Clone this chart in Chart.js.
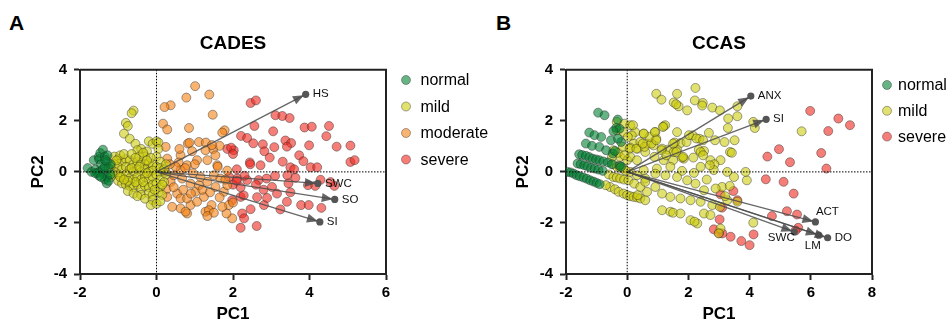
<!DOCTYPE html>
<html>
<head>
<meta charset="utf-8">
<script src="https://cdn.jsdelivr.net/npm/chart.js@4.4.0/dist/chart.umd.min.js"></script>
<style>
  body { margin: 0; background: #fff; width: 949px; height: 325px; overflow: hidden; position: relative;
         font-family: "Liberation Sans", Arial, sans-serif; }
  .panel { position: absolute; top: 0; }
  .letter { position: absolute; font-weight: bold; font-size: 21px; color: #000; }
</style>
</head>
<body>
<div class="letter" style="left:9px;top:11px">A</div>
<div class="letter" style="left:496px;top:11px">B</div>
<div class="panel" style="left:0"><canvas id="chartA" width="560" height="325"></canvas></div>
<div class="panel" style="left:475px"><canvas id="chartB" width="474" height="325"></canvas></div>

<script>
// ===== Data (PC1, PC2 scores) =====

// A: CADES
const cadesNormal = [
  [-1.8,0.15],[-1.7,0.0],[-1.64,0.46],[-1.6,0.1],[-1.51,0.59],[-1.55,-0.05],[-1.5,0.5],[-1.5,0.0],
  [-1.47,0.74],[-1.45,0.3],[-1.4,0.87],[-1.4,0.1],[-1.38,-0.07],[-1.35,0.6],[-1.35,-0.3],[-1.3,0.4],
  [-1.29,-0.2],[-1.3,-0.45],[-1.25,0.15],[-1.25,-0.35],[-1.2,0.3],[-1.2,-0.1],[-1.5,-0.15],[-1.6,-0.05],
  [-1.45,-0.2],[-1.35,0.2],[-1.28,0.65],[-1.34,0.46]
];
const cadesMild = [
  [-0.6,2.4],[-0.65,2.3],[-0.8,1.92],[-0.75,1.8],[-0.85,1.5],[-0.7,1.3],[-0.55,1.1],[-0.4,0.9],
  [-0.2,1.2],[-0.1,1.1],[0.0,1.2],[0.05,1.15],[0.05,0.9],[-0.25,0.8],[-0.5,0.85],[-0.3,0.6],[0.0,0.6],[0.1,0.4],
  [-1.1,0.6],[-1.0,0.5],[-0.9,0.4],[-0.8,0.5],[-0.7,0.45],[-0.6,0.3],[-0.5,0.4],[-0.4,0.35],[-0.3,0.3],
  [-0.2,0.35],[-0.1,0.3],[0.0,0.2],[-1.1,0.3],[-1.0,0.2],[-0.9,0.1],[-0.8,0.2],[-0.7,0.1],[-0.6,0.0],
  [-0.5,0.1],[-0.4,0.0],[-0.3,0.1],[-0.2,0.0],[-0.1,0.05],[0.1,0.0],[-1.1,0.0],[-1.0,-0.1],[-0.9,-0.2],
  [-0.8,-0.1],[-0.7,-0.25],[-0.6,-0.3],[-0.5,-0.2],[-0.4,-0.3],[-0.3,-0.2],[-0.2,-0.3],[-0.1,-0.2],
  [0.0,-0.1],[0.1,-0.3],[-1.0,-0.35],[-0.9,-0.45],[-0.8,-0.5],[-0.7,-0.55],[-0.6,-0.6],[-0.5,-0.5],
  [-0.4,-0.65],[-0.3,-0.55],[-0.2,-0.6],[-0.1,-0.5],[0.0,-0.45],[0.1,-0.6],[-0.75,-0.75],[-0.6,-0.85],
  [-0.4,-0.9],[-0.2,-0.85],[-0.1,-0.9],[0.05,-0.8],[0.15,-0.9],[-0.5,-0.95],[-0.3,-1.05],[-0.1,-1.1],
  [-0.15,-1.3],[0.0,-1.25],[0.1,-1.15],[-1.2,0.2],[-1.15,-0.1],[-1.2,-0.2],[-0.95,0.65],[-0.85,0.7],
  [-0.65,0.7],[-0.45,0.6],[-0.35,0.75],[-0.15,0.55],[0.1,0.15],[0.2,0.1],[0.25,-0.1],[0.2,-0.4],
  [0.25,0.3],[-0.25,-0.05],[-0.55,-0.4],[-0.75,-0.35],[-0.95,-0.2],[-0.65,0.15],[-0.35,-0.4],
  [-0.05,-0.7],[0.15,-0.5],[-0.45,0.2],[-1.05,0.45],[-0.85,-0.3],[-0.55,0.55],[-0.25,0.45]
];
const cadesModerate = [
  [1.01,3.36],[1.38,3.03],[0.78,2.91],[0.37,2.61],[0.21,2.54],[1.47,2.24],[0.17,1.89],[0.28,1.66],
  [0.85,1.72],[1.78,1.63],[1.72,1.54],[0.24,0.98],[0.82,1.11],[0.86,1.14],[1.11,1.17],[1.29,1.15],
  [1.48,0.89],[1.65,1.02],[0.63,0.65],[0.28,0.52],[0.58,0.37],[0.93,0.81],[1.28,0.85],[1.54,0.65],
  [1.33,0.46],[1.59,0.26],[1.06,0.46],[0.8,0.26],[0.63,0.07],[0.26,-0.68],[0.37,-0.39],[0.54,-0.85],
  [0.63,-1.04],[0.41,-1.37],[0.63,-1.43],[0.8,-1.63],[0.89,-1.3],[1.02,-0.78],[1.24,-0.98],[1.06,-1.17],
  [1.28,-1.56],[1.44,-1.3],[1.37,-1.5],[0.8,-1.04],[0.28,-0.98],[0.24,0.0],[0.45,-0.13],[0.67,-0.26],
  [0.89,-0.46],[1.11,-0.52],[1.33,-0.39],[1.54,-0.59],[1.76,-0.78],[1.85,-0.52],[1.15,-0.2],[1.5,-0.13],
  [1.67,-0.26],[1.89,-1.3],[1.98,-1.82],[1.83,-1.63],[1.72,-1.37],[2.0,-1.2],[1.85,0.05],[1.8,-0.3],
  [1.6,0.2],[0.5,0.2],[0.75,0.15],[0.95,-0.05],[0.45,-0.6],[0.7,-0.7],[0.9,-0.85],[1.2,-0.7],
  [1.4,-0.8],[1.65,-1.0],[0.6,0.9],[1.45,1.05],[1.0,0.3],[0.35,0.3],[0.76,-1.56],[1.5,-1.6],[1.33,-1.73]
];
const cadesSevere = [
  [2.46,2.7],[2.6,2.8],[3.11,2.22],[3.29,2.19],[3.48,2.11],[2.56,1.8],[3.05,1.59],[3.87,1.74],
  [4.06,1.77],[4.51,1.8],[4.44,1.4],[2.21,1.41],[2.37,1.33],[2.53,1.12],[2.78,1.08],[2.82,0.81],
  [3.08,0.97],[3.37,1.23],[3.52,1.13],[3.41,0.99],[3.99,1.04],[4.71,0.99],[5.07,1.03],[3.73,0.65],
  [3.84,0.42],[2.96,0.56],[2.44,0.37],[2.72,0.26],[4.03,0.18],[4.2,0.18],[5.07,0.39],[5.18,0.46],
  [3.5,0.18],[2.02,0.85],[1.85,0.9],[1.95,0.95],[4.29,-0.31],[3.96,-0.52],[3.63,-0.23],[3.42,-0.13],
  [3.02,-0.59],[2.67,-0.32],[2.37,-0.32],[2.11,-0.26],[2.88,-0.26],[2.81,-1.3],[2.63,-0.99],[2.89,-1.02],
  [3.24,-1.47],[3.41,-1.17],[3.78,-1.3],[3.98,-1.3],[4.31,-1.41],[2.46,-1.46],[2.24,-1.63],[2.29,-1.82],
  [2.2,-2.19],[2.62,-2.12],[2.2,-0.98],[2.28,-0.92],[1.98,-1.11],[1.9,-0.2],[2.0,-0.5],[2.1,-0.35],
  [2.2,-0.6],[2.3,-0.15],[2.45,0.3],[2.1,0.1],[2.6,-0.5],[3.1,-0.15],[3.45,-0.45],[4.15,-0.55],
  [4.65,-0.55],[3.15,-0.85],[3.5,-0.8],[2.8,-0.7],[3.3,0.4],[3.6,0.1],[4.55,-0.4],[2.0,0.7]
];
const cadesArrowNames = ["HS", "SWC", "SO", "SI"];
const cadesArrowX = [3.9, 4.22, 4.66, 4.27];
const cadesArrowY = [3.04, -0.45, -1.08, -1.96];
const cadesXTicks = [-2, 0, 2, 4, 6];
const cadesYTicks = [-4, -2, 0, 2, 4];

// B: CCAS
const ccasNormal = [
  [-1.95,0.0],[-1.85,-0.02],[-1.75,-0.07],[-1.65,-0.13],[-1.55,-0.17],[-1.43,-0.22],[-1.32,-0.27],
  [-1.21,-0.33],[-1.1,-0.38],[-1.0,-0.43],[-0.9,-0.48],
  [-1.62,0.33],[-1.52,0.3],[-1.4,0.26],[-1.3,0.22],[-1.18,0.16],[-1.06,0.13],[-0.94,0.09],[-0.8,0.04],
  [-1.57,0.69],[-1.47,0.66],[-1.35,0.63],[-1.24,0.58],[-1.13,0.52],[-1.02,0.49],[-0.91,0.46],[-0.78,0.41],
  [-0.63,0.37],[-0.5,0.3],
  [-1.24,1.54],[-1.07,1.44],[-0.85,1.37],[-0.53,1.24],[-0.2,1.17],[-1.35,1.11],[-1.15,1.02],[-0.91,0.98],
  [-0.69,0.85],[-0.47,0.72],[-0.95,2.32],[-0.74,2.22],[-0.31,2.05],[-0.36,1.72],[-0.25,1.69],[-0.45,1.6],
  [-0.3,1.3],[-0.25,0.24],[-0.4,0.82],[-0.2,0.2]
];
const ccasMild = [
  [0.95,3.06],[1.12,2.83],[1.63,3.06],[1.52,2.72],[1.68,2.57],[1.6,2.65],[1.96,2.41],[2.23,3.29],
  [2.21,2.8],[2.47,2.7],[2.45,2.6],[2.78,2.52],[3.03,2.41],[3.3,2.09],[3.29,1.72],[3.6,2.57],[3.6,2.18],
  [4.17,1.72],[5.7,1.59],[4.12,1.96],
  [0.26,1.56],[0.54,1.5],[0.92,1.56],[0.95,1.3],[1.19,1.79],[1.24,1.83],[1.63,1.56],[1.74,1.13],
  [1.94,1.17],[2.14,1.43],[2.36,1.3],[2.67,1.53],[2.87,1.24],[3.18,1.17],[3.51,1.24],[3.36,0.78],
  [3.05,0.46],[2.72,0.46],[2.16,0.56],[1.85,0.52],[1.5,0.46],[1.19,0.46],[0.89,0.59],[0.59,0.78],
  [0.34,0.91],[0.21,1.11],[0.1,0.95],[1.32,0.87],[1.63,0.87],[2.34,0.87],[2.51,0.82],[1.79,0.56],
  [3.42,0.75],[2.85,0.3],
  [0.54,0.07],[0.97,0.13],[1.41,0.2],[1.79,0.04],[2.18,-0.04],[2.83,0.07],[3.27,0.0],[3.49,-0.2],
  [3.91,-0.33],[3.87,0.0],[3.1,-0.59],[2.89,-0.65],[2.51,-0.72],[2.23,-0.46],[1.96,-0.33],[1.63,-0.2],
  [1.25,-0.13],[0.92,-0.07],[0.59,-0.26],[0.92,-0.59],[1.14,-0.85],[1.41,-0.98],[1.74,-1.04],[2.07,-1.11],
  [2.4,-1.17],[2.78,-1.3],[3.03,-1.37],[3.27,-1.11],[3.6,-1.17],[1.14,-1.5],[1.41,-1.56],[1.5,-1.6],
  [1.74,-1.63],[2.07,-1.89],[2.29,-2.02],[2.2,-1.95],[2.51,-1.63],[2.72,-1.69],[3.05,-2.22],[2.99,-2.41],
  [4.12,-1.99],[3.2,-0.95],[3.35,-0.55],[2.6,-0.3],[2.4,0.2],[1.55,1.15],
  [-0.56,-0.59],[-0.4,-0.68],[-0.28,-0.78],[-0.12,-0.85],[0.0,-0.91],[0.1,-0.95],[0.21,-0.98],[0.32,-1.0],
  [0.43,-1.04],[0.59,-1.11],[0.34,-0.91],[-0.7,-0.52],
  [-0.6,-0.1],[-0.45,-0.2],[-0.34,-0.22],[-0.23,-0.26],[-0.1,-0.3],[0.04,-0.33],[0.23,-0.46],[0.43,-0.59],
  [0.65,-0.78],[-0.45,0.3],[-0.34,0.2],[-0.23,0.16],[-0.12,0.13],[0.1,0.0],[0.32,-0.13],[0.59,-0.39],
  [-0.05,0.05],[-0.45,0.85],[-0.23,0.59],[0.0,0.46],[0.1,0.59],[0.32,0.46],[-0.5,0.59],[-0.3,0.75],
  [-0.34,1.96],[-0.09,1.89],[0.1,1.83],[0.19,1.83],[-0.34,1.63],[-0.12,1.56],[0.15,1.43],[0.02,1.37],
  [0.43,1.17],[0.65,1.11],[0.86,1.04],[1.14,0.91],[1.52,0.78],[-0.14,0.98],[0.08,0.91],[0.3,0.91],
  [0.57,0.98],[0.51,1.11],[0.79,1.11],[0.73,1.37],[0.9,1.56],[1.17,1.76],[0.54,1.5],[0.95,1.24],
  [1.12,0.85],[1.28,0.65],[1.5,1.11],[1.61,0.78],[1.83,0.59],[2.02,1.44],[2.26,1.31],[2.48,1.24],
  [2.4,0.78],[2.48,0.65],[2.7,0.26],[-0.09,0.65]
];
const ccasSevere = [
  [5.98,2.39],[6.9,2.09],[7.28,1.83],[6.57,1.6],[4.96,0.89],[4.58,0.6],[5.32,0.38],[6.34,0.74],
  [6.51,0.13],[4.53,-0.29],[5.11,-0.39],[5.44,-0.85],[3.6,-1.11],[3.47,-0.75],[3.05,-0.88],[4.73,-1.73],
  [5.22,-1.54],[5.55,-1.67],[5.59,-2.19],[5.5,-2.3],[3.02,-1.86],[2.83,-2.25],[3.11,-2.41],[3.38,-2.54],
  [3.73,-2.71],[4.0,-2.87],[4.13,-2.45],[3.0,-2.4],[3.1,-1.4]
];
const ccasArrowNames = ["ANX", "SI", "ACT", "SWC", "LM", "DO"];
const ccasArrowX = [4.04, 4.54, 6.15, 5.46, 6.26, 6.55];
const ccasArrowY = [2.97, 2.06, -1.96, -2.35, -2.48, -2.58];
const ccasXTicks = [-2, 0, 2, 4, 6, 8];
const ccasYTicks = [-4, -2, 0, 2, 4];

// ===== Styles =====
const groupColors = {
  normal:   "rgba(0,128,50,0.6)",
  mild:     "rgba(205,205,15,0.6)",
  moderate: "rgba(245,130,20,0.6)",
  severe:   "rgba(240,40,30,0.6)"
};
const arrowColor = "rgba(75,75,75,0.85)";
// where each vector label sits relative to its tip
const labelPosA = {};
const labelPosB = {
  ACT: { dx: 12, dy: -10, align: "center" },
  SWC: { dx: -13, dy: 6, align: "center" },
  LM:  { dx: -6, dy: 11, align: "center" }
};

Chart.defaults.font.family = '"Liberation Sans", Arial, sans-serif';
Chart.defaults.color = "#000";

// ===== Plugin: zero lines, arrow heads, vector labels, frame, legend =====
const biplotPlugin = {
  id: "biplot",
  afterDatasetsDraw(chart, args, opts) {
    const { ctx, chartArea: a, scales: { x, y } } = chart;
    const x0 = x.getPixelForValue(0), y0 = y.getPixelForValue(0);

    ctx.save();
    ctx.strokeStyle = "#000";
    ctx.lineWidth = 1;
    ctx.setLineDash([1.5, 1.5]);
    ctx.beginPath();
    ctx.moveTo(x0, a.top); ctx.lineTo(x0, a.bottom);
    ctx.moveTo(a.left, y0); ctx.lineTo(a.right, y0);
    ctx.stroke();
    ctx.restore();

    ctx.save();
    chart.data.datasets.forEach((ds, i) => {
      if (!ds.arrow) return;
      const pts = chart.getDatasetMeta(i).data;
      const p0 = pts[0], p1 = pts[1];
      const ang = Math.atan2(p1.y - p0.y, p1.x - p0.x);
      const tipX = p1.x - Math.cos(ang) * 2, tipY = p1.y - Math.sin(ang) * 2;
      const len = 11, half = 4.5;
      const bx = tipX - Math.cos(ang) * len, by = tipY - Math.sin(ang) * len;
      ctx.fillStyle = arrowColor;
      ctx.beginPath();
      ctx.moveTo(tipX, tipY);
      ctx.lineTo(bx + Math.sin(ang) * half, by - Math.cos(ang) * half);
      ctx.lineTo(bx - Math.sin(ang) * half, by + Math.cos(ang) * half);
      ctx.closePath();
      ctx.fill();

      const pos = opts.labelPos[ds.label] || { dx: 7, dy: 0, align: "left" };
      ctx.fillStyle = "#111";
      ctx.font = '11.5px "Liberation Sans", Arial, sans-serif';
      ctx.textAlign = pos.align;
      ctx.textBaseline = "middle";
      ctx.fillText(ds.label, p1.x + pos.dx, p1.y + pos.dy);
    });
    ctx.restore();
  },
  afterDraw(chart, args, opts) {
    const { ctx, chartArea: a } = chart;
    ctx.save();
    ctx.strokeStyle = "#222";
    ctx.lineWidth = 2;
    ctx.beginPath();
    ctx.moveTo(a.left, a.top); ctx.lineTo(a.right, a.top); ctx.lineTo(a.right, a.bottom);
    ctx.stroke();

    // legend
    let ly = opts.legendY;
    chart.data.datasets.forEach(ds => {
      if (ds.arrow) return;
      ctx.beginPath();
      ctx.arc(opts.legendX, ly, 4.5, 0, Math.PI * 2);
      ctx.fillStyle = ds.backgroundColor;
      ctx.fill();
      ctx.lineWidth = 0.8;
      ctx.strokeStyle = "rgba(40,40,40,0.5)";
      ctx.stroke();
      ctx.fillStyle = "#000";
      ctx.font = '16px "Liberation Sans", Arial, sans-serif';
      ctx.textAlign = "left";
      ctx.textBaseline = "middle";
      ctx.fillText(ds.label, opts.legendX + opts.legendTextGap, ly + 1);
      ly += opts.legendGap;
    });
    ctx.restore();
  }
};

function toPoints(arr) {
  return arr.map(p => ({ x: p[0], y: p[1] }));
}

function makeChart(id, title, groups, names, ax, ay, xTicks, yTicks, lay) {
  const datasets = [];
  names.forEach((n, i) => {
    datasets.push({
      label: n,
      arrow: true,
      type: "line",
      data: [{ x: 0, y: 0 }, { x: ax[i], y: ay[i] }],
      borderColor: arrowColor,
      borderWidth: 1.3,
      pointRadius: [0, 3.6],
      pointBackgroundColor: "#555",
      pointBorderWidth: 0,
      showLine: true,
      order: -1
    });
  });
  groups.forEach(g => {
    datasets.push({
      label: g.name,
      data: toPoints(g.data),
      backgroundColor: groupColors[g.name],
      borderColor: "rgba(40,40,40,0.55)",
      borderWidth: 0.8,
      pointRadius: 4.5,
      order: g.order
    });
  });

  const axisTitle = text => ({
    display: true, text, font: { size: 17, weight: "bold" }, padding: { top: 0, bottom: 0 }
  });
  const tickFont = { size: 15, weight: "bold" };

  return new Chart(document.getElementById(id), {
    type: "scatter",
    data: { datasets },
    options: {
      responsive: false,
      animation: false,
      layout: { padding: { left: lay.padLeft, right: lay.padRight, top: 0, bottom: 0 } },
      plugins: {
        legend: { display: false },
        tooltip: { enabled: false },
        title: {
          display: true, text: title, fullSize: false,
          font: { size: 19, weight: "bold" }, color: "#000",
          padding: { top: 32, bottom: 15 }
        },
        biplot: {
          labelPos: lay.labelPos, legendX: lay.legendX, legendY: lay.legendY,
          legendGap: lay.legendGap, legendTextGap: lay.legendTextGap
        }
      },
      scales: {
        x: {
          type: "linear",
          min: xTicks[0], max: xTicks[xTicks.length - 1],
          afterBuildTicks: s => { s.ticks = xTicks.map(v => ({ value: v })); },
          afterFit: s => { s.height = 51; },
          grid: { drawOnChartArea: false, drawTicks: true, tickLength: 6, tickColor: "#222", tickWidth: 2 },
          border: { color: "#222", width: 2 },
          ticks: { font: tickFont, color: "#000", padding: 4, maxRotation: 0 },
          title: axisTitle("PC1")
        },
        y: {
          type: "linear",
          min: yTicks[0], max: yTicks[yTicks.length - 1],
          afterBuildTicks: s => { s.ticks = yTicks.map(v => ({ value: v })); },
          afterFit: s => { s.width = lay.yWidth; },
          grid: { drawOnChartArea: false, drawTicks: true, tickLength: 6, tickColor: "#222", tickWidth: 2 },
          border: { color: "#222", width: 2 },
          ticks: { font: tickFont, color: "#000", padding: 7 },
          title: axisTitle("PC2")
        }
      }
    },
    plugins: [biplotPlugin]
  });
}

makeChart("chartA", "CADES",
  [
    { name: "normal", data: cadesNormal, order: 1 },
    { name: "mild", data: cadesMild, order: 2 },
    { name: "moderate", data: cadesModerate, order: 3 },
    { name: "severe", data: cadesSevere, order: 4 }
  ],
  cadesArrowNames, cadesArrowX, cadesArrowY, cadesXTicks, cadesYTicks,
  { padLeft: 28, yWidth: 52, padRight: 174, labelPos: labelPosA,
    legendX: 406, legendY: 80, legendGap: 26.5, legendTextGap: 14.5 });

makeChart("chartB", "CCAS",
  [
    { name: "normal", data: ccasNormal, order: 1 },
    { name: "mild", data: ccasMild, order: 2 },
    { name: "severe", data: ccasSevere, order: 3 }
  ],
  ccasArrowNames, ccasArrowX, ccasArrowY, ccasXTicks, ccasYTicks,
  { padLeft: 38, yWidth: 53, padRight: 77, labelPos: labelPosB,
    legendX: 412, legendY: 85, legendGap: 25.8, legendTextGap: 11 });
</script>
</body>
</html>
